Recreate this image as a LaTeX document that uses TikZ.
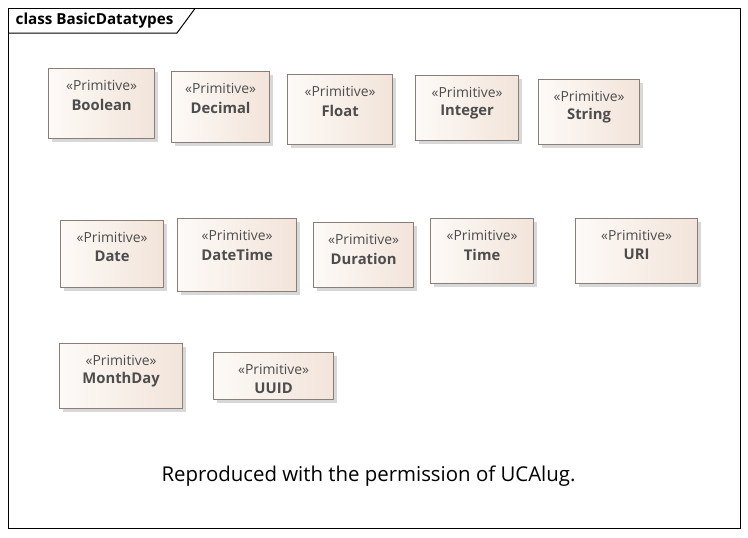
\documentclass[tikz,border=0pt]{standalone}
\usepackage{fontspec}
\setmainfont{Open Sans}
\usetikzlibrary{shadows}
\definecolor{boxborder}{HTML}{8A7E78}
\definecolor{boxlight}{HTML}{FDFAF7}
\definecolor{boxdark}{HTML}{F2E4DA}
\definecolor{txtgrey}{HTML}{4D4D4D}
\tikzset{
  primbox/.style={draw=boxborder, line width=1.2pt, left color=boxlight, right color=boxdark,
    anchor=north west, inner sep=0pt,
    drop shadow={shadow xshift=3pt, shadow yshift=-3pt, fill=black!25, opacity=0.6}},
  stereo/.style={text=txtgrey, font=\fontsize{13.9}{16}\selectfont, inner sep=0pt},
  tname/.style={text=txtgrey, font=\fontsize{14.8}{17}\selectfont\bfseries, inner sep=0pt},
}
\newcommand{\primbox}[6]{%
  \node[primbox, minimum width=#4pt, minimum height=#5pt] (#1) at (#2,#3) {};
  \node[stereo] (#1s) at ([yshift=-17pt]#1.north) {«Primitive»};
  \node[tname] (#1n) at ([yshift=-36.5pt]#1.north) {#6};
}
\begin{document}
\begin{tikzpicture}[x=1pt,y=-1pt]
\useasboundingbox (0,0) rectangle (748,538);
\fill[white] (0,0) rectangle (748,538);
% frame
\draw[line width=1pt] (8.5,8.5) rectangle (740.5,528.5);
\draw[line width=1pt] (8.5,33) -- (177,33) -- (195,8.5);
\node[anchor=west, font=\fontsize{15.2}{17}\selectfont\bfseries, inner sep=0pt] (title) at (15.5,20.5) {class BasicDatatypes};
% row 1
\primbox{boolean}{48}{68}{106}{70}{Boolean}
\primbox{decimal}{171}{71}{98}{71}{Decimal}
\primbox{float}{287}{74}{105}{70}{Float}
\primbox{integer}{415}{75}{103}{65}{Integer}
\primbox{string}{538}{79}{101}{65}{String}
% row 2
\primbox{date}{60}{220}{103}{67}{Date}
\primbox{datetime}{177}{218}{119}{73}{DateTime}
\primbox{duration}{313}{222}{100}{65}{Duration}
\primbox{time}{430}{218}{103}{65}{Time}
\primbox{uri}{575}{218}{122}{65}{URI}
% row 3
\primbox{monthday}{59}{343}{123}{65}{MonthDay}
\primbox{uuid}{213}{352}{120}{47}{UUID}
% note
\node[font=\fontsize{20.4}{24}\selectfont, inner sep=0pt] (note) at (368.5,476.5) {Reproduced with the permission of UCAlug.};
\end{tikzpicture}
\end{document}
